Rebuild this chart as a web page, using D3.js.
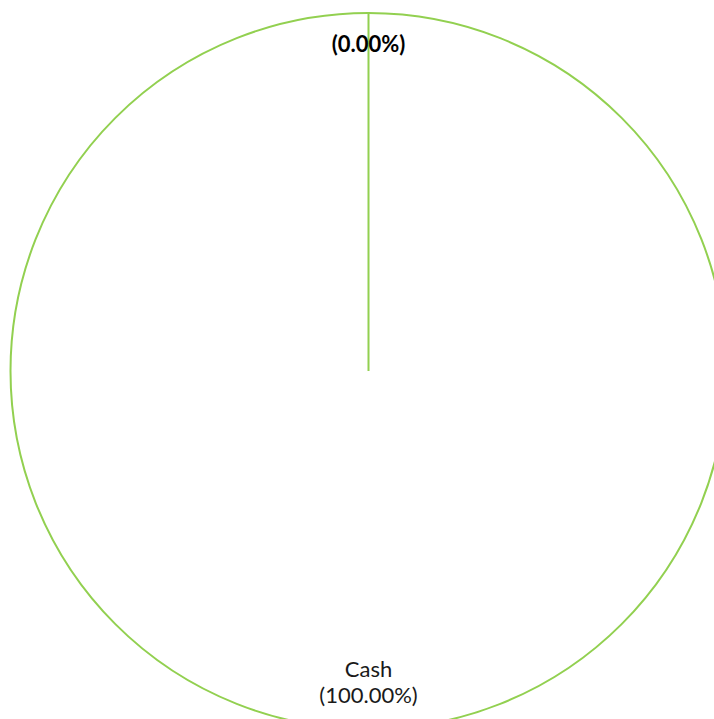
<!DOCTYPE html>
<html>
<head>
<meta charset="utf-8">
<script src="https://cdn.jsdelivr.net/npm/d3@7"></script>
<style>
  html, body { margin: 0; padding: 0; background: #ffffff; }
  svg { display: block; }
</style>
</head>
<body>
<svg id="chart" width="714" height="719"></svg>
<script>
// Data
const categories = ["Cash", "Other"];
const values = [100, 0];
const labelNames = ["Cash", ""];

const width = 714, height = 719;
const cx = 368.5, cy = 371, radius = 358;

const svg = d3.select("#chart");
const g = svg.append("g").attr("transform", `translate(${cx},${cy})`);

const data = categories.map((c, i) => ({ name: c, value: values[i], label: labelNames[i] }));
const total = d3.sum(values);

const pie = d3.pie().value(d => d.value).sort(null);
const arcs = pie(data);

const arc = d3.arc().innerRadius(0).outerRadius(radius);
const labelR = radius * 0.89;
const labelArc = d3.arc().innerRadius(labelR).outerRadius(labelR);

g.selectAll("path.slice")
  .data(arcs)
  .join("path")
  .attr("class", "slice")
  .attr("d", arc)
  .attr("fill", "#ffffff")
  .attr("stroke", "#92D050")
  .attr("stroke-width", 2);

const fmt = d3.format(".2f");
const labels = g.selectAll("text.lbl")
  .data(arcs)
  .join("text")
  .attr("class", "lbl")
  .attr("transform", d => {
    const [x, y] = labelArc.centroid(d);
    return `translate(${x},${y})`;
  })
  .attr("text-anchor", "middle")
  .attr("font-family", "Lato, 'Open Sans', sans-serif")
  .attr("font-size", 22)
  .attr("fill", d => d.data.value === 0 ? "#000000" : "#1a1a1a")
  .attr("font-weight", d => d.data.value === 0 ? "bold" : "normal");

labels.each(function(d) {
  const t = d3.select(this);
  const pct = `(${fmt(d.data.value / total * 100)}%)`;
  if (d.data.label) {
    t.append("tspan").attr("x", 0).attr("dy", "-0.57em").text(d.data.label);
    t.append("tspan").attr("x", 0).attr("dy", "1.18em").text(pct);
  } else {
    t.append("tspan").attr("x", 0).attr("dy", "0em").text(pct);
  }
});
</script>
</body>
</html>
